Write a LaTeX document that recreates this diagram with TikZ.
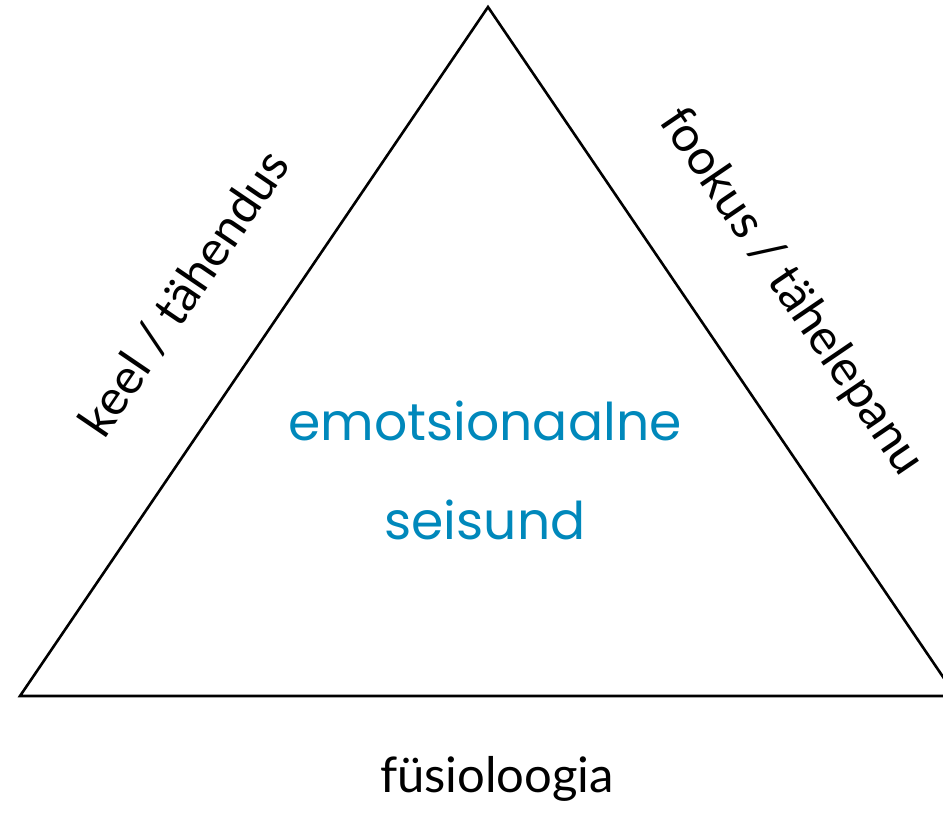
\documentclass[tikz,border=0pt]{standalone}
\usepackage{fontspec}
\setmainfont{Lato}
\newfontfamily\bluefont{Poppins}
\definecolor{emoblue}{RGB}{0,136,187}

\tikzstyle{side} = [font=\fontsize{49}{58}\selectfont]
\tikzstyle{centre} = [font=\bluefont\fontsize{52}{99}\selectfont, text=emoblue, align=center]

\begin{document}
\begin{tikzpicture}[x=1pt,y=-1pt]
	\useasboundingbox (0,0) rectangle (943,812);
	\clip (0,0) rectangle (943,812);
	\coordinate (top) at (488,7);
	\coordinate (left) at (20,696);
	\coordinate (right) at (956,696);
	\draw[line width=2.6pt, line join=miter] (top) -- (left) -- (right) -- cycle;
	\node[side, rotate=55.8] (keel) at (184,293) {keel / tähendus};
	\node[side, rotate=-55.8] (fookus) at (791,292) {fookus / tähelepanu};
	\node[side, anchor=base] (fys) at (497,792) {füsioloogia};
	\node[centre] (emo) at (485,470) {emotsionaalne\\seisund};
\end{tikzpicture}
\end{document}
